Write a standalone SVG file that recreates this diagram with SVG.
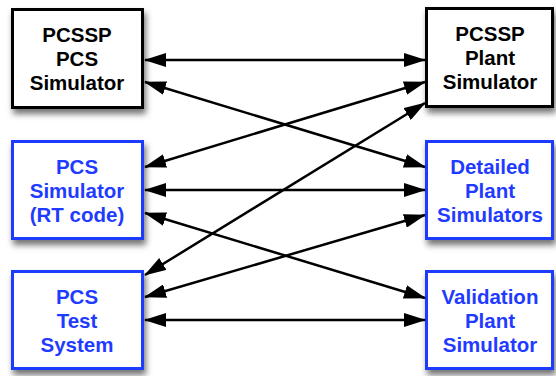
<svg xmlns="http://www.w3.org/2000/svg" width="556" height="376" viewBox="0 0 556 376">
<defs>
<filter id="sh" x="-20%" y="-20%" width="140%" height="150%">
<feDropShadow dx="2" dy="5" stdDeviation="3" flood-color="#000" flood-opacity="0.55"/>
</filter>
<marker id="ah" viewBox="0 0 22 14" refX="21" refY="7" markerWidth="22" markerHeight="14" markerUnits="userSpaceOnUse" orient="auto-start-reverse">
<path d="M0,0 L22,7 L0,14 z" fill="#000"/>
</marker>
<style>
.box{fill:#fff;stroke-width:3;filter:url(#sh)}
.k{stroke:#000}
.b{stroke:#1f3bff}
text{font-family:"Liberation Sans",Arial,sans-serif;font-weight:bold;font-size:20.5px;text-anchor:middle}
.tk{fill:#000}
.tb{fill:#1f3bff}
.c line{stroke:#000;stroke-width:2.5;marker-start:url(#ah);marker-end:url(#ah)}
</style>
</defs>
<rect width="556" height="376" fill="#fff"/>
<g id="pcssp-pcs">
<rect class="box k" x="12.5" y="9.5" width="130" height="98"/>
<text class="tk" x="77" y="42">PCSSP</text>
<text class="tk" x="77" y="66">PCS</text>
<text class="tk" x="77" y="90">Simulator</text>
</g>
<g id="pcssp-plant">
<rect class="box k" x="426.5" y="8.5" width="126" height="98"/>
<text class="tk" x="490" y="41">PCSSP</text>
<text class="tk" x="490" y="65">Plant</text>
<text class="tk" x="490" y="89">Simulator</text>
</g>
<g id="pcs-sim">
<rect class="box b" x="12.5" y="141.5" width="130" height="97"/>
<text class="tb" x="77" y="174">PCS</text>
<text class="tb" x="77" y="198">Simulator</text>
<text class="tb" x="77" y="222">(RT code)</text>
</g>
<g id="detailed">
<rect class="box b" x="426.5" y="141.5" width="126" height="97"/>
<text class="tb" x="490" y="174">Detailed</text>
<text class="tb" x="490" y="198">Plant</text>
<text class="tb" x="490" y="222">Simulators</text>
</g>
<g id="pcs-test">
<rect class="box b" x="12.5" y="271.5" width="130" height="97"/>
<text class="tb" x="77" y="304">PCS</text>
<text class="tb" x="77" y="328">Test</text>
<text class="tb" x="77" y="352">System</text>
</g>
<g id="validation">
<rect class="box b" x="426.5" y="271.5" width="126" height="97"/>
<text class="tb" x="490" y="304">Validation</text>
<text class="tb" x="490" y="328">Plant</text>
<text class="tb" x="490" y="352">Simulator</text>
</g>
<g id="connectors" class="c">
<line x1="145" y1="60" x2="425" y2="60"/>
<line x1="145" y1="82" x2="425" y2="167"/>
<line x1="145" y1="167" x2="425" y2="82"/>
<line x1="145" y1="190" x2="425" y2="190"/>
<line x1="145" y1="213" x2="425" y2="298"/>
<line x1="145" y1="275" x2="425" y2="103"/>
<line x1="145" y1="297" x2="425" y2="215"/>
<line x1="145" y1="320" x2="425" y2="320"/>
</g>
</svg>
